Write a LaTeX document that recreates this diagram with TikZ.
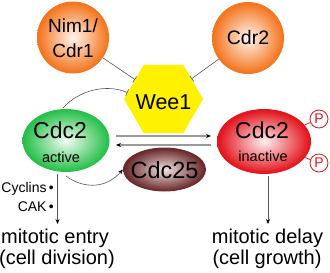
\documentclass[tikz,border=0pt]{standalone}
\usepackage{fontspec}
\setmainfont{Liberation Sans}
\usetikzlibrary{shapes.geometric,arrows.meta}
\definecolor{orin}{HTML}{FFF6EE}
\definecolor{orout}{HTML}{F47620}
\definecolor{grin}{HTML}{F4FDF5}
\definecolor{grout}{HTML}{28C04A}
\definecolor{rdin}{HTML}{FDF0F0}
\definecolor{rdout}{HTML}{E3161E}
\definecolor{brin}{HTML}{F0E2E2}
\definecolor{brout}{HTML}{6A2A2C}
\definecolor{wyel}{HTML}{FFF100}
\definecolor{pred}{HTML}{E3161E}
\definecolor{lgray}{HTML}{555555}
\definecolor{agray}{HTML}{9A9A9A}
\pgfdeclareradialshading{orball}{\pgfpointorigin}{color(0bp)=(orin); color(24bp)=(orout); color(50bp)=(orout)}
\pgfdeclareradialshading{grball}{\pgfpointorigin}{color(0bp)=(grin); color(24bp)=(grout); color(50bp)=(grout)}
\pgfdeclareradialshading{rdball}{\pgfpointorigin}{color(0bp)=(rdin); color(24bp)=(rdout); color(50bp)=(rdout)}
\pgfdeclareradialshading{brball}{\pgfpointorigin}{color(0bp)=(brin); color(24bp)=(brout); color(50bp)=(brout)}
\newcommand{\fs}[1]{\fontsize{#1}{#1}\selectfont}
\tikzset{
  ball/.style={circle, inner sep=0pt, minimum size=72pt},
  egg/.style={ellipse, inner sep=0pt},
  lbl/.style={anchor=base, inner sep=0pt, text=black},
  inhib/.style={draw=lgray, line width=0.6pt, -{Bar[width=7pt,line width=0.6pt]}},
  act/.style={draw=agray, line width=1.3pt, -{Stealth[length=5pt,width=4pt,black]}},
  thin arrow/.style={draw=lgray, line width=0.6pt, -{Stealth[length=5pt,width=4pt,black]}},
  pcirc/.style={circle, draw=pred, fill=white, line width=0.8pt, inner sep=0pt, minimum size=18pt, text=pred, font=\fs{14}},
}
\begin{document}
\begin{tikzpicture}[x=1pt,y=-1pt]
\useasboundingbox (0,0) rectangle (330,273);
% shapes
\node[ball, shading=orball] (nim) at (73,37.5) {};
\node[ball, shading=orball] (cdr) at (248,38) {};
\node[regular polygon, regular polygon sides=6, minimum size=79pt, inner sep=0pt, fill=wyel] (wee) at (163.5,99) {};
\node[egg, minimum width=87pt, minimum height=63pt, shading=grball] (g) at (66,140.5) {};
\node[egg, minimum width=94pt, minimum height=65pt, shading=rdball] (r) at (264,141.5) {};
\node[egg, minimum width=83pt, minimum height=44pt, shading=brball] (c25) at (164.5,169.5) {};
\node[pcirc] (p1) at (319,119) {P};
\node[pcirc] (p2) at (319,163) {P};
% texts
\node[lbl, font=\fs{19}] (nimt1) at (73,32) {Nim1/};
\node[lbl, font=\fs{19}] (nimt2) at (73,57) {Cdr1};
\node[lbl, font=\fs{19.5}] (cdrt) at (248,44.5) {Cdr2};
\node[lbl, font=\fs{21.5}] (weet) at (163.5,109) {Wee1};
\node[lbl, font=\fs{23}] (gt1) at (60,138) {Cdc2};
\node[lbl, font=\fs{14.5}] (gt2) at (61,162) {active};
\node[lbl, font=\fs{23}] (rt1) at (262,138) {Cdc2};
\node[lbl, font=\fs{14.5}] (rt2) at (263,161) {inactive};
\node[lbl, font=\fs{23.5}] (c25t) at (164.5,178) {Cdc25};
\node[lbl, font=\fs{14}, anchor=base east] (cyc) at (54,192) {Cyclins\,•};
\node[lbl, font=\fs{14}, anchor=base east] (cak) at (54,211) {CAK\,•};
\node[lbl, font=\fs{20}] (en1) at (55,243) {mitotic entry};
\node[lbl, font=\fs{20}] (en2) at (57,264) {(cell division)};
\node[lbl, font=\fs{20}] (de1) at (267.5,243) {mitotic delay};
\node[lbl, font=\fs{20}] (de2) at (267,264) {(cell growth)};
% connectors
\draw[inhib] (nim) -- (wee);
\draw[inhib] (cdr) -- (wee);
\coordinate (gtop) at (63,108);
\draw[inhib] (gtop) .. controls (80,89) and (108,84) .. (wee.170);
\coordinate (gbot) at (66,176);
\draw[thin arrow] (gbot) .. controls (82,188) and (105,190) .. (c25.west);
\coordinate (h1a) at (116,136);
\coordinate (h1b) at (211,136);
\coordinate (h2a) at (211,145);
\coordinate (h2b) at (116,145);
\draw[act] (h1a) -- (h1b);
\draw[act] (h2a) -- (h2b);
\coordinate (va) at (57.5,174);
\coordinate (vb) at (57.5,224);
\draw[thin arrow] (va) -- (vb);
\coordinate (wa) at (268,176);
\coordinate (wb) at (268,224);
\draw[thin arrow] (wa) -- (wb);
\draw[draw=pred, line width=0.8pt] (r) -- (p1);
\draw[draw=pred, line width=0.8pt] (r) -- (p2);
\end{tikzpicture}
\end{document}
